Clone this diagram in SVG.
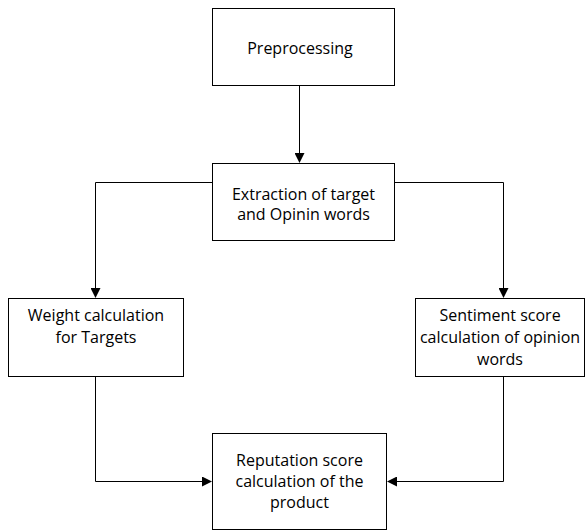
<svg xmlns="http://www.w3.org/2000/svg" width="587" height="531" viewBox="0 0 587 531">
<style>
.box{fill:#fff;stroke:#000;stroke-width:1}
.t{font-family:"Open Sans","Liberation Sans",sans-serif;font-size:16px;fill:#000;text-anchor:middle}
.c{fill:none;stroke:#000;stroke-width:1}
</style>
<defs>
<marker id="ah" markerWidth="10" markerHeight="10" refX="9" refY="5" orient="auto" markerUnits="userSpaceOnUse">
<path d="M0,0 L10,5 L0,10 Z" fill="#000"/>
</marker>
</defs>
<rect width="587" height="531" fill="#fff"/>
<g id="connectors">
<path class="c" d="M299.5,85 V162" marker-end="url(#ah)"/>
<path class="c" d="M212,182.5 H95.5 V297" marker-end="url(#ah)"/>
<path class="c" d="M395,182.5 H503.5 V297" marker-end="url(#ah)"/>
<path class="c" d="M95.5,376 V481.5 H211" marker-end="url(#ah)"/>
<path class="c" d="M503.5,376 V481.5 H388" marker-end="url(#ah)"/>
</g>
<g id="preprocessing">
<rect class="box" x="212.5" y="8.5" width="182" height="77"/>
<text class="t" x="300" y="54">Preprocessing</text>
</g>
<g id="extraction">
<rect class="box" x="212.5" y="163.5" width="182" height="77"/>
<text class="t" x="303.5" y="200">Extraction of target</text>
<text class="t" x="303.5" y="220">and Opinin words</text>
</g>
<g id="weight">
<rect class="box" x="8.5" y="298.5" width="175" height="78"/>
<text class="t" x="96" y="321">Weight calculation</text>
<text class="t" x="96" y="343">for Targets</text>
</g>
<g id="sentiment">
<rect class="box" x="415.5" y="298.5" width="169" height="78"/>
<text class="t" x="500" y="321">Sentiment score</text>
<text class="t" x="500" y="343">calculation of opinion</text>
<text class="t" x="500" y="365">words</text>
</g>
<g id="reputation">
<rect class="box" x="212.5" y="433.5" width="174" height="96"/>
<text class="t" x="299.5" y="466">Reputation score</text>
<text class="t" x="299.5" y="487">calculation of the</text>
<text class="t" x="299.5" y="508">product</text>
</g>
</svg>
